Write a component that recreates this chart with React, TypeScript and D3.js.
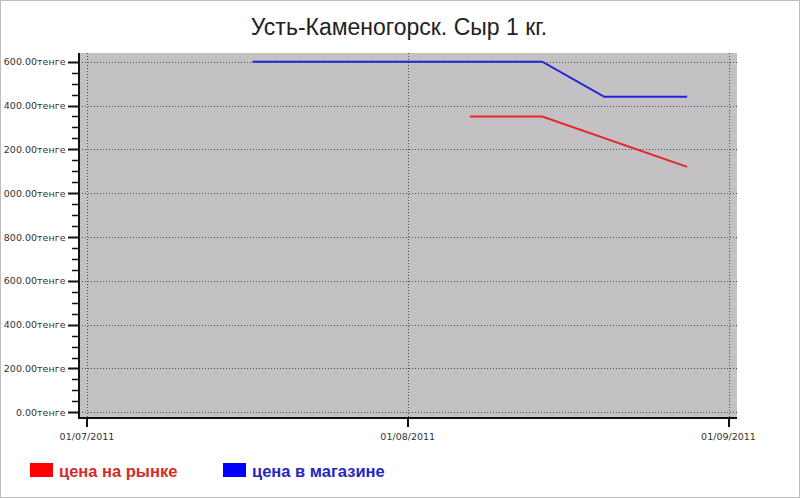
import { useEffect, useRef } from "react";
import * as d3 from "d3";

// -----------------------------
// Data
// -----------------------------
const chartTitle = "Усть-Каменогорск. Сыр 1 кг.";
const seriesNames = ["цена на рынке", "цена в магазине"];
const seriesColors = ["#e62628", "#2222d6"];
const legendSwatchColors = ["#ff0000", "#0000ff"];
const legendTextColors = ["#d42a2a", "#2525c4"];

const marketDates = ["2011-08-07", "2011-08-14", "2011-08-28"];
const marketPrices = [1350, 1350, 1120];

const shopDates = ["2011-07-17", "2011-08-14", "2011-08-20", "2011-08-28"];
const shopPrices = [1600, 1600, 1440, 1440];

const xTickDates = ["2011-07-01", "2011-08-01", "2011-09-01"];
const yTickValues = [0, 200, 400, 600, 800, 1000, 1200, 1400, 1600];
const currencyUnit = "тенге";

export default function App() {
  const ref = useRef<HTMLDivElement>(null);

  useEffect(() => {
    if (!ref.current) return;
    document.body.style.margin = "0";
    const container = ref.current;
    container.innerHTML = "";

    const width = 800;
    const height = 498;
    const plot = { left: 79, right: 737, top: 53, bottom: 418 };
    const parse = d3.timeParse("%Y-%m-%d");

    const svg = d3
      .select(container)
      .append("svg")
      .attr("width", width)
      .attr("height", height)
      .style("display", "block")
      .style("font-family", "'DejaVu Sans', Verdana, sans-serif");

    svg
      .append("rect")
      .attr("width", width)
      .attr("height", height)
      .attr("fill", "#fff");

    // clip: the long labels run off the left edge in the original
    svg
      .append("clipPath")
      .attr("id", "edge")
      .append("rect")
      .attr("x", 4)
      .attr("y", 0)
      .attr("width", width)
      .attr("height", height);

    // -----------------------------
    // Scales
    // -----------------------------
    const x = d3
      .scaleTime()
      .domain([parse(xTickDates[0])!, parse(xTickDates[2])!])
      .range([87, 728.5]);

    const y = d3.scaleLinear().domain([0, 1600]).range([412.3, 61.7]);

    const fmt = d3.formatLocale({
      decimal: ".",
      thousands: " ",
      grouping: [3],
      currency: ["", ""],
    }).format(",.2f");

    // -----------------------------
    // Title
    // -----------------------------
    svg
      .append("text")
      .attr("x", 399)
      .attr("y", 35)
      .attr("text-anchor", "middle")
      .style("font-family", "'Liberation Sans', Arial, sans-serif")
      .style("font-size", "23px")
      .style("fill", "#222")
      .text(chartTitle);

    // -----------------------------
    // Plot background + grid
    // -----------------------------
    svg
      .append("rect")
      .attr("x", plot.left)
      .attr("y", plot.top)
      .attr("width", plot.right - plot.left)
      .attr("height", plot.bottom - plot.top)
      .attr("fill", "#c3c1c4");

    svg
      .append("g")
      .selectAll("line")
      .data(yTickValues)
      .join("line")
      .attr("x1", plot.left)
      .attr("x2", plot.right)
      .attr("y1", (d) => Math.round(y(d)) + 0.5)
      .attr("y2", (d) => Math.round(y(d)) + 0.5)
      .attr("stroke", "#4a4a4a")
      .attr("stroke-width", 1)
      .attr("stroke-dasharray", "1,2");

    svg
      .append("g")
      .selectAll("line")
      .data(xTickDates)
      .join("line")
      .attr("x1", (d) => Math.round(x(parse(d)!)) + 0.5)
      .attr("x2", (d) => Math.round(x(parse(d)!)) + 0.5)
      .attr("y1", plot.top)
      .attr("y2", plot.bottom)
      .attr("stroke", "#4a4a4a")
      .attr("stroke-width", 1)
      .attr("stroke-dasharray", "1,2");

    // -----------------------------
    // Axes
    // -----------------------------
    const axisColor = "#111";
    svg
      .append("line")
      .attr("x1", plot.left)
      .attr("x2", plot.left)
      .attr("y1", plot.top)
      .attr("y2", plot.bottom + 1)
      .attr("stroke", axisColor)
      .attr("stroke-width", 2);
    svg
      .append("line")
      .attr("x1", plot.left - 1)
      .attr("x2", plot.right)
      .attr("y1", plot.bottom)
      .attr("y2", plot.bottom)
      .attr("stroke", axisColor)
      .attr("stroke-width", 2);

    // minor y ticks every 50
    const minor = d3.range(50, 1600, 50).filter((v) => v % 200 !== 0);
    svg
      .append("g")
      .selectAll("line")
      .data(minor)
      .join("line")
      .attr("x1", 72)
      .attr("x2", plot.left)
      .attr("y1", (d) => Math.round(y(d)) + 0.5)
      .attr("y2", (d) => Math.round(y(d)) + 0.5)
      .attr("stroke", axisColor)
      .attr("stroke-width", 1.5);

    const yAxis = svg.append("g").attr("clip-path", "url(#edge)");
    yAxis
      .selectAll("line")
      .data(yTickValues)
      .join("line")
      .attr("x1", 68)
      .attr("x2", plot.left)
      .attr("y1", (d) => Math.round(y(d)) + 0.5)
      .attr("y2", (d) => Math.round(y(d)) + 0.5)
      .attr("stroke", axisColor)
      .attr("stroke-width", 2);
    yAxis
      .selectAll("text")
      .data(yTickValues)
      .join("text")
      .attr("x", 65.5)
      .attr("y", (d) => y(d) + 3.5)
      .attr("text-anchor", "end")
      .style("font-size", "9.5px")
      .style("fill", "#333")
      .text((d) => fmt(d) + currencyUnit);

    const xAxis = svg.append("g");
    xAxis
      .selectAll("line")
      .data(xTickDates)
      .join("line")
      .attr("x1", (d) => Math.round(x(parse(d)!)))
      .attr("x2", (d) => Math.round(x(parse(d)!)))
      .attr("y1", plot.bottom)
      .attr("y2", plot.bottom + 9)
      .attr("stroke", axisColor)
      .attr("stroke-width", 2);
    xAxis
      .selectAll("text")
      .data(xTickDates)
      .join("text")
      .attr("x", (d) => x(parse(d)!))
      .attr("y", 440)
      .attr("text-anchor", "middle")
      .style("font-size", "9.5px")
      .style("fill", "#333")
      .text((d) => d3.timeFormat("%d/%m/%Y")(parse(d)!));

    // -----------------------------
    // Lines
    // -----------------------------
    const line = d3
      .line<[string, number]>()
      .x((d) => x(parse(d[0])!))
      .y((d) => y(d[1]));

    const series: [string, number][][] = [
      marketDates.map((d, i) => [d, marketPrices[i]]),
      shopDates.map((d, i) => [d, shopPrices[i]]),
    ];

    series.forEach((pts, i) => {
      svg
        .append("path")
        .datum(pts)
        .attr("d", line)
        .attr("fill", "none")
        .attr("stroke", seriesColors[i])
        .attr("stroke-width", 2);
    });

    // -----------------------------
    // Legend
    // -----------------------------
    const legendX = [30, 223];
    seriesNames.forEach((name, i) => {
      svg
        .append("rect")
        .attr("x", legendX[i])
        .attr("y", 463)
        .attr("width", 23)
        .attr("height", 14)
        .attr("fill", legendSwatchColors[i]);
      svg
        .append("text")
        .attr("x", legendX[i] + 29)
        .attr("y", 477)
        .style("font-family", "'Liberation Sans', Arial, sans-serif")
        .style("font-size", "16.5px")
        .style("font-weight", "bold")
        .style("fill", legendTextColors[i])
        .text(name);
    });

    // outer frame
    svg
      .append("rect")
      .attr("x", 0.5)
      .attr("y", 0.5)
      .attr("width", width - 1)
      .attr("height", height - 1)
      .attr("fill", "none")
      .attr("stroke", "#bdbdbd");
  }, []);

  return <div ref={ref} />;
}
